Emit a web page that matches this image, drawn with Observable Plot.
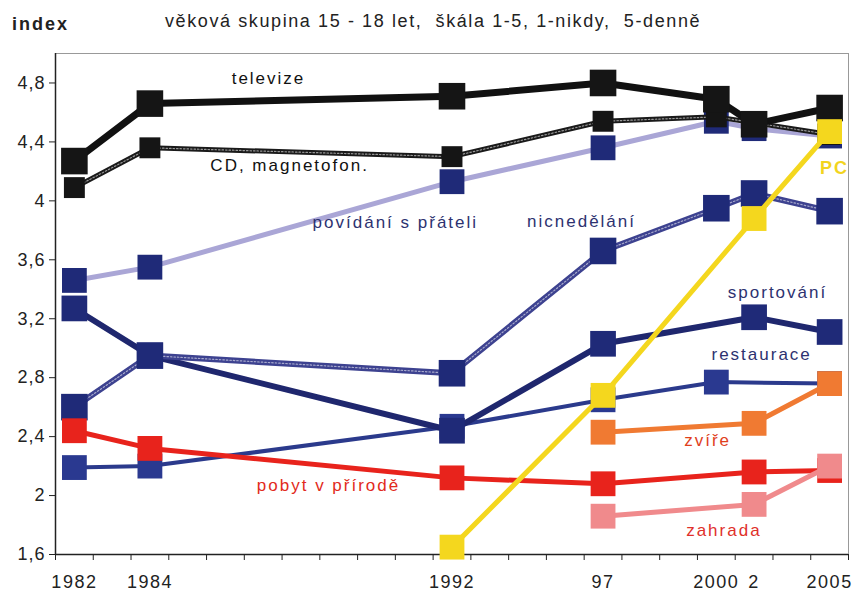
<!DOCTYPE html>
<html>
<head>
<meta charset="utf-8">
<script src="https://cdn.jsdelivr.net/npm/d3@7"></script>
<script src="https://cdn.jsdelivr.net/npm/@observablehq/plot@0.6"></script>
<style>
  html, body { margin: 0; padding: 0; background: #fff; }
  #wrap { width: 854px; height: 606px; position: relative; font-family: "Liberation Sans", Arial, sans-serif; }
  #head { height: 50px; position: relative; }
  #head .t { position: absolute; left: 12px; top: 14px; font-size: 18px; font-weight: bold; color: #222; letter-spacing: 2px; }
  #head .s { position: absolute; left: 165px; top: 11px; font-size: 18px; color: #222; letter-spacing: 1.6px; white-space: nowrap; }
  #chart svg g[aria-label="text"] text { letter-spacing: 2px; }
  #chart svg g[aria-label="x-axis tick label"] text { letter-spacing: 1.5px; }
  #chart svg g[aria-label="y-axis tick label"] text { letter-spacing: 1px; }
</style>
</head>
<body>
<div id="wrap">
  <div id="head"><span class="t">index</span><span class="s">věková skupina 15 - 18 let,&nbsp; škála 1-5, 1-nikdy,&nbsp; 5-denně</span></div>
  <div id="chart"></div>
</div>
<script>
// x axis: tick labels and their category slot on a 21-slot axis
const years = ["1982", "1984", "1992", "97", "2000", "2", "2005"];
const axisSlots = [0, 2, 10, 14, 17, 18, 20];
const slotCount = 21;
const yTicks = [1.6, 2, 2.4, 2.8, 3.2, 3.6, 4, 4.4, 4.8];

// series values (index 1-5), one per year, null = no value
const restaurace  = [2.19, 2.20, 2.47, 2.65, 2.77, null, 2.76];
const sportovani  = [3.27, 2.95, 2.44, 3.03, null, 3.21, 3.11];
const nicnedelani = [2.60, 2.95, 2.83, 3.66, 3.95, 4.05, 3.93];
const povidani    = [3.46, 3.55, 4.13, 4.36, 4.54, 4.49, 4.44];
const cdMagnetofon = [4.09, 4.36, 4.30, 4.54, 4.57, 4.53, 4.45];
const televize    = [4.27, 4.66, 4.71, 4.80, 4.69, 4.52, 4.63];
const pobyt       = [2.44, 2.32, 2.12, 2.08, null, 2.16, 2.17];
const pc          = [null, null, 1.65, 2.68, null, 3.88, 4.47];
const zvire       = [null, null, null, 2.43, null, 2.49, 2.76];
const zahrada     = [null, null, null, 1.86, null, 1.94, 2.20];

const series = [
  {name: "restaurace", values: restaurace, line: "#2b3a8c", width: 4, sq: "#2a3990", r: 14},
  {name: "sportování", values: sportovani, line: "#1f276e", width: 6, sq: "#1f2a78", r: 14.5},
  {name: "nicnedělání", values: nicnedelani, line: "#3d4290", width: 6, sq: "#1f2a78", r: 15, tex: true},
  {name: "povídání s přáteli", values: povidani, line: "#aaa6d6", width: 5, sq: "#1f2a78", r: 14},
  {name: "CD, magnetofon.", values: cdMagnetofon, line: "#1a1a1a", width: 5, sq: "#151515", r: 11.8, tex: true},
  {name: "televize", values: televize, line: "#111", width: 7, sq: "#151515", r: 15},
  {name: "pobyt v přírodě", values: pobyt, line: "#e8231c", width: 5, sq: "#e8231c", r: 14},
  {name: "PC", values: pc, line: "#f4d71e", width: 5, sq: "#f4d71e", r: 14},
  {name: "zvíře", values: zvire, line: "#f07a32", width: 5, sq: "#f07a32", r: 14},
  {name: "zahrada", values: zahrada, line: "#f08a8c", width: 5, sq: "#f08a8c", r: 14}
];

// annotation labels (data units: slot, index)
const labels = [
  {text: "televize", x: 5.14, y: 4.83, color: "#111"},
  {text: "CD, magnetofon.", x: 5.7, y: 4.24, color: "#111"},
  {text: "povídání s přáteli", x: 8.5, y: 3.85, color: "#2d3270"},
  {text: "nicnedělání", x: 13.43, y: 3.86, color: "#2d3270"},
  {text: "sportování", x: 18.62, y: 3.38, color: "#2d3270"},
  {text: "restaurace", x: 18.2, y: 2.96, color: "#2d3270"},
  {text: "zvíře", x: 16.77, y: 2.37, color: "#e0401c"},
  {text: "pobyt v přírodě", x: 6.73, y: 2.07, color: "#e22a20"},
  {text: "zahrada", x: 17.2, y: 1.76, color: "#e0302a"}
];

const marks = [
  Plot.frame({stroke: "#999", strokeWidth: 1}),
  Plot.ruleX([-0.5], {stroke: "#222", strokeWidth: 1.5}),
  Plot.ruleY([1.6], {stroke: "#222", strokeWidth: 1.5}),
  Plot.axisY({ticks: yTicks, label: null, tickSize: 6, tickPadding: 4, fontSize: 18, stroke: "#222",
    tickFormat: d => String(d).replace(".", ",")}),
  Plot.axisX({ticks: d3.range(-0.5, slotCount, 1), label: null, tickSize: 6, tickFormat: () => "", stroke: "#222"}),
  Plot.axisX({ticks: axisSlots, label: null, tickSize: 0, tickPadding: 21, fontSize: 18,
    tickFormat: d => years[axisSlots.indexOf(d)]})
];

for (const s of series) {
  const pts = s.values.map((v, i) => ({x: axisSlots[i], y: v})).filter(d => d.y != null);
  marks.push(Plot.line(pts, {x: "x", y: "y", stroke: s.line, strokeWidth: s.width, strokeLinejoin: "round"}));
  if (s.tex) {
    marks.push(Plot.line(pts, {x: "x", y: "y", stroke: "#fff", strokeWidth: 1.2, strokeOpacity: 0.55, strokeDasharray: "1.5 2"}));
  }
  marks.push(Plot.dot(pts, {x: "x", y: "y", symbol: "square", r: s.r, fill: s.sq, stroke: "none"}));
}

marks.push(Plot.text(labels, {x: "x", y: "y", text: "text", fill: d => d.color, fontSize: 17}));
marks.push(Plot.text(["PC"], {x: 20.13, y: 4.22, text: d => d, fill: "#f2d41e", fontSize: 18, fontWeight: "bold"}));

const chart = Plot.plot({
  width: 854,
  height: 556,
  marginTop: 3,
  marginLeft: 55,
  marginRight: 6,
  marginBottom: 52,
  x: {domain: [-0.5, slotCount - 0.5]},
  y: {domain: [1.6, 5.0]},
  style: {fontFamily: "'Liberation Sans', Arial, sans-serif", fontSize: "17px", color: "#222", background: "#fff"},
  marks
});
document.getElementById("chart").appendChild(chart);
</script>
</body>
</html>
